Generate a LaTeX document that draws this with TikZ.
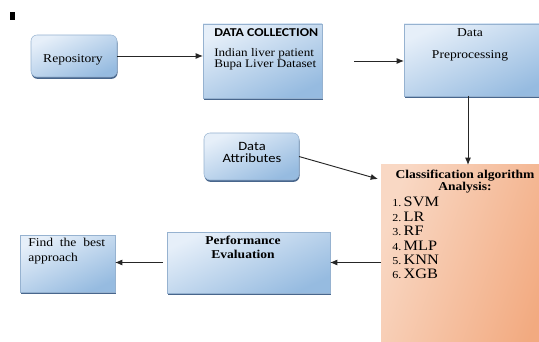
\documentclass[tikz,border=0pt]{standalone}
\usepackage{fontspec}
\setmainfont[FakeStretch=1.13]{Liberation Serif}
\newfontfamily\calfont[FakeStretch=1.15]{Carlito}
\usepackage{tikz}
\usetikzlibrary{arrows.meta,positioning,calc,shadows}
\usepackage{xcolor}
\definecolor{boxlight}{RGB}{230,239,249}
\definecolor{boxblue}{RGB}{150,187,224}
\definecolor{boxedge}{RGB}{150,178,208}
\definecolor{boxshadow}{RGB}{72,102,140}
\definecolor{peach}{RGB}{249,216,196}
\definecolor{peachlight}{RGB}{253,238,230}
\definecolor{peachdark}{RGB}{242,170,128}

\begin{document}
\begin{tikzpicture}[x=0.75pt,y=-0.75pt,
  bluebox/.style={draw=boxedge,line width=0.4pt,top color=boxlight,bottom color=boxblue,
    shading angle=25,anchor=north west,inner sep=0pt,outer sep=0pt,
    drop shadow={shadow xshift=0.4pt,shadow yshift=-1.4pt,fill=boxshadow,opacity=1}},
  roundbox/.style={bluebox,rounded corners=4.5pt},
  orangebox/.style={left color=peach,middle color=peachlight,right color=peachdark,
    shading angle=70,anchor=north west,inner sep=0pt,outer sep=0pt},
  lbl/.style={inner sep=0pt,font=\fontsize{9}{10}\selectfont},
  arr/.style={-{Latex[length=5.5pt,width=4.5pt]},draw=black!85,line width=0.7pt}]
\useasboundingbox (0,0) rectangle (539,342);
\fill (10,12) rectangle (15,20);
% boxes
\node[roundbox,minimum width=64.5pt,minimum height=31.5pt] (repo) at (31,35) {};
\node[bluebox,minimum width=89.25pt,minimum height=55.5pt] (dc) at (203,24) {};
\node[bluebox,minimum width=108.75pt,minimum height=54pt] (prep) at (404,24) {};
\node[roundbox,minimum width=71.25pt,minimum height=35.25pt] (attr) at (204,133) {};
\node[orangebox,minimum width=127.5pt,minimum height=138.75pt] (cls) at (381,165) {};
\node[bluebox,minimum width=122.25pt,minimum height=45.75pt] (perf) at (167,232) {};
\node[bluebox,minimum width=71.25pt,minimum height=42.75pt] (best) at (20,235) {};
% texts
\node[lbl] (repo-text) at (73,60) {Repository};
\node[lbl,anchor=west,font=\calfont\bfseries\fontsize{9}{10}\selectfont] (dc-head) at (214,33)
  {DATA COLLECTION};
\node[lbl,anchor=north west,align=left,font=\fontsize{8.7}{8.1}\selectfont] (dc-text) at (214,48)
  {Indian liver patient\\Bupa Liver Dataset};
\node[lbl,anchor=north,align=center] (prep-text) at (470,28)
  {Data\\[6.5pt]Preprocessing};
\node[lbl,align=center,font=\calfont\fontsize{9.5}{9}\selectfont] (attr-text) at (252,152)
  {Data\\Attributes};
\node[lbl,anchor=north,align=center,font=\bfseries\fontsize{9}{9}\selectfont] (cls-head) at (465,170)
  {Classification algorithm\\Analysis:};
\node[lbl,anchor=north west,align=left,font=\fontsize{10.8}{10.8}\selectfont] (cls-list) at (392,197)
  {{\footnotesize 1.}\,SVM\\{\footnotesize 2.}\,LR\\{\footnotesize 3.}\,RF\\
   {\footnotesize 4.}\,MLP\\{\footnotesize 5.}\,KNN\\{\footnotesize 6.}\,XGB};
\node[lbl,anchor=north,align=center,font=\bfseries\fontsize{9}{10.5}\selectfont] (perf-text) at (243,236)
  {Performance\\Evaluation};
\node[lbl,anchor=north west,align=left,font=\fontsize{9}{11.2}\selectfont] (best-text) at (28,238)
  {Find\ \ the\ \ best\\approach};
% connectors
\coordinate (prep-out) at ($(prep.south west)+(64,0)$);
\draw[arr] (repo.east) -- (repo.east -| dc.west);
\draw[arr,shorten <=24pt] (dc.east) -- (dc.east -| prep.west);
\draw[arr] (prep-out) -- (prep-out |- cls.north);
\draw[arr] (attr.east) -- ($(cls.north west)+(-3,14)$);
\draw[arr] (cls.west |- perf.east) -- (perf.east);
\draw[arr,shorten <=3pt] (perf.west) -- (perf.west -| best.east);
\end{tikzpicture}
\end{document}
